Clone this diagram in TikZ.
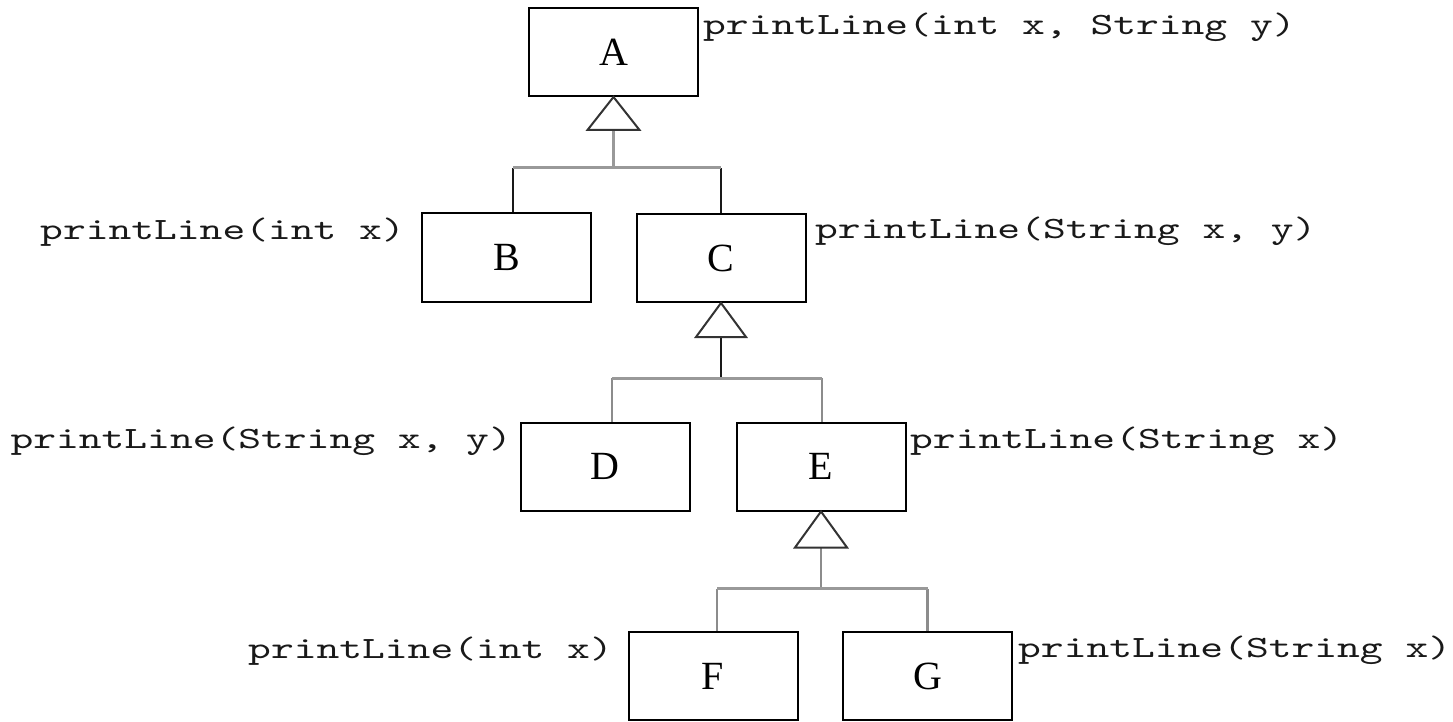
\documentclass[tikz,border=0pt]{standalone}
\usepackage{fontspec}
\setmainfont{Liberation Serif}
\newfontfamily\codefont{lmmono10-regular.otf}[FakeStretch=1.40]
\usetikzlibrary{calc}
\begin{document}
\begin{tikzpicture}[x=1pt,y=-1pt,
  cls/.style={draw=black, line width=2pt, minimum width=169pt, minimum height=88pt, inner sep=0pt, font=\fontsize{40}{40}\selectfont},
  lbl/.style={font=\codefont\fontsize{31}{31}\selectfont, inner sep=0pt, text=black!90},
  tri/.style={draw=black!80, line width=2pt, fill=white, line join=miter},
  bus/.style={draw=black!40, line width=3pt},
  drop/.style={draw=black!45, line width=2.5pt},
  dropk/.style={draw=black!90, line width=2pt},
]
\useasboundingbox (0,0) rectangle (1453,722);

% classes
\node[cls] (A) at (613.5,52) {A};
\node[cls] (B) at (506.5,257.5) {B};
\node[cls] (C) at (721,258) {C};
\node[cls] (D) at (605,466.5) {D};
\node[cls] (E) at (821,466.5) {E};
\node[cls] (F) at (713,676) {F};
\node[cls] (G) at (927.5,676) {G};

% labels
\node[lbl, anchor=base west] (lA) at (703,35) {printLine(int x, String y)};
\node[lbl, anchor=base east] (lB) at (405,240) {printLine(int x)};
\node[lbl, anchor=base west] (lC) at (815,238) {printLine(String x, y)};
\node[lbl, anchor=base east] (lD) at (512,448) {printLine(String x, y)};
\node[lbl, anchor=base west] (lE) at (910,448) {printLine(String x)};
\node[lbl, anchor=base east] (lF) at (613,658) {printLine(int x)};
\node[lbl, anchor=base west] (lG) at (1018,657) {printLine(String x)};

% level 1: A <- B, C
\coordinate (a1) at ($(A.south)+(0,33)$);
\coordinate (a2) at ($(A.south)+(0,71)$);
\coordinate (bt) at ($(B.north)+(6,0)$);
\coordinate (ct) at (C.north);
\draw[bus] (a1) -- (a2);
\draw[dropk] (bt) -- (bt |- a2);
\draw[dropk] (ct) -- (ct |- a2);
\draw[bus] (bt |- a2) -- (ct |- a2);
\draw[tri] (A.south) -- ++(-26,33) -- ++(52,0) -- cycle;

% level 2: C <- D, E
\coordinate (c1) at ($(C.south)+(0,34)$);
\coordinate (c2) at ($(C.south)+(0,75)$);
\coordinate (dt) at ($(D.north)+(7,0)$);
\coordinate (et) at ($(E.north)+(1,0)$);
\draw[dropk] (c1) -- (c2);
\draw[drop] (dt) -- (dt |- c2);
\draw[drop] (et) -- (et |- c2);
\draw[bus] (dt |- c2) -- (et |- c2);
\draw[tri] (C.south) -- ++(-25,34) -- ++(50,0) -- cycle;

% level 3: E <- F, G
\coordinate (e1) at ($(E.south)+(0,36)$);
\coordinate (e2) at ($(E.south)+(0,77)$);
\coordinate (ft) at ($(F.north)+(4,0)$);
\coordinate (gt) at (G.north);
\draw[drop] (e1) -- (e2);
\draw[drop] (ft) -- (ft |- e2);
\draw[drop] (gt) -- (gt |- e2);
\draw[bus] (ft |- e2) -- (gt |- e2);
\draw[tri] (E.south) -- ++(-26,36) -- ++(52,0) -- cycle;
\end{tikzpicture}
\end{document}
